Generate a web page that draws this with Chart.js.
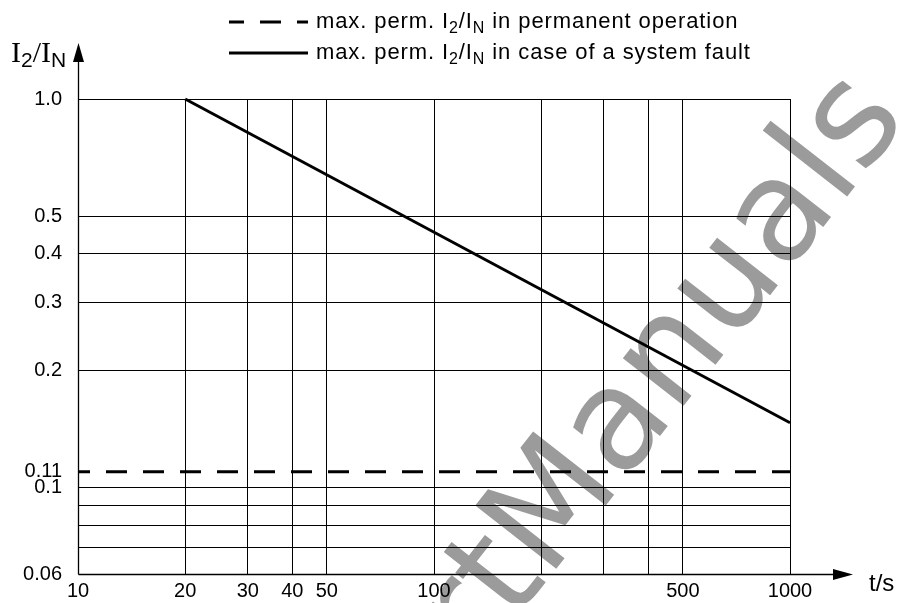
<!DOCTYPE html>
<html>
<head>
<meta charset="utf-8">
<script src="https://cdn.jsdelivr.net/npm/chart.js@4.4.0/dist/chart.umd.min.js"></script>
<style>
html,body{margin:0;padding:0;background:#fff;}
#wrap{position:relative;width:904px;height:603px;}
</style>
</head>
<body>
<div id="wrap"><canvas id="c"></canvas></div>
<script>
// t/s on x, I2/IN on y (both log)
const xTicks = [10,20,30,40,50,100,200,300,400,500,1000];
const xTickLabels = ['10','20','30','40','50','100','','','','500','1000'];
const yTicks = [0.06,0.07,0.08,0.09,0.1,0.11,0.2,0.3,0.4,0.5,1.0];
const yTickLabels = ['0.06','','','','0.1','0.11','0.2','0.3','0.4','0.5','1.0'];
const faultT = [20,1000];
const faultI = [1.0,0.147];
const permT = [10,1000];
const permI = [0.11,0.11];
const legendPerm = [['max. perm. I',0],['2',1],['/I',0],['N',1],[' in permanent operation',0]];
const legendFault = [['max. perm. I',0],['2',1],['/I',0],['N',1],[' in case of a system fault',0]];
const watermark = 'rtManuals';

const SANS = '"Liberation Sans", Arial, sans-serif';
const SERIF = '"Liberation Serif", "Times New Roman", serif';

function pts(xs,ys){ return xs.map((x,i)=>({x:x,y:ys[i]})); }

function drawRich(ctx,parts,x,y,size,subSize){
  ctx.textBaseline='alphabetic'; ctx.textAlign='left';
  ctx.letterSpacing='0.9px';
  parts.forEach(p=>{
    ctx.font=(p[1]?subSize:size)+'px '+SANS;
    ctx.fillText(p[0],x,p[1]?y+5:y);
    x+=ctx.measureText(p[0]).width;
  });
  ctx.letterSpacing='0px';
}

const deco = {
  id:'deco',
  beforeDraw(chart){
    const ctx=chart.ctx;
    ctx.save();
    ctx.translate(478,669);
    ctx.rotate(-52*Math.PI/180);
    ctx.font='141px "DejaVu Sans", sans-serif';
    ctx.fillStyle='#9b9b9b';
    ctx.fillText(watermark,0,0);
    ctx.restore();
  },
  afterDraw(chart){
    const ctx=chart.ctx, xs=chart.scales.x, ys=chart.scales.y;
    const x0=Math.round(xs.getPixelForValue(xs.min))+0.5;
    const y0=Math.round(ys.getPixelForValue(ys.min))+0.5;
    ctx.save();
    ctx.strokeStyle='#000'; ctx.fillStyle='#000'; ctx.lineWidth=1.3;
    // y axis + arrow
    ctx.beginPath(); ctx.moveTo(x0,y0); ctx.lineTo(x0,60); ctx.stroke();
    ctx.beginPath(); ctx.moveTo(x0,43); ctx.lineTo(x0-5.5,62); ctx.lineTo(x0+5.5,62); ctx.closePath(); ctx.fill();
    // x axis + arrow
    ctx.beginPath(); ctx.moveTo(x0,y0); ctx.lineTo(836,y0); ctx.stroke();
    ctx.beginPath(); ctx.moveTo(853,y0); ctx.lineTo(833,y0-5.5); ctx.lineTo(833,y0+5.5); ctx.closePath(); ctx.fill();
    // axis titles
    ctx.textBaseline='alphabetic'; ctx.textAlign='left';
    let x=11;
    [['I',SERIF,30,62],['2',SANS,21,67],['/',SERIF,30,62],['I',SERIF,30,62],['N',SANS,21,67]].forEach(p=>{
      ctx.font=p[2]+'px '+p[1]; ctx.fillText(p[0],x,p[3]); x+=ctx.measureText(p[0]).width;
    });
    ctx.font='24px '+SANS; ctx.fillText('t/s',869,591);
    // legend
    const ds=chart.data.datasets;
    [[ds[0],22,28,legendPerm],[ds[1],53,59,legendFault]].forEach(r=>{
      const d=r[0];
      ctx.save();
      ctx.lineWidth=3; ctx.strokeStyle=d.borderColor;
      ctx.setLineDash(d.borderDash||[]); ctx.lineDashOffset=6;
      ctx.beginPath(); ctx.moveTo(229,r[1]); ctx.lineTo(308,r[1]); ctx.stroke();
      ctx.restore();
      drawRich(ctx,r[3],316,r[2],22,16);
    });
    ctx.restore();
  }
};

new Chart(document.getElementById('c'),{
  type:'scatter',
  data:{datasets:[
    {label:'perm',data:pts(permT,permI),showLine:true,borderColor:'#000',borderWidth:3,borderDash:[21,16],borderDashOffset:9,pointRadius:0,clip:false},
    {label:'fault',data:pts(faultT,faultI),showLine:true,borderColor:'#000',borderWidth:3,pointRadius:0,clip:false}
  ]},
  options:{
    responsive:true, maintainAspectRatio:false, animation:false, events:[],
    layout:{padding:{left:0,right:114,top:99,bottom:0}},
    plugins:{legend:{display:false},tooltip:{enabled:false}},
    scales:{
      x:{type:'logarithmic',min:10,max:1000,
        afterBuildTicks:s=>{s.ticks=xTicks.map(v=>({value:v}));},
        afterFit:s=>{s.height=29;},
        border:{display:false},
        grid:{drawTicks:false,lineWidth:1,color:c=>c.tick&&c.tick.value===10?'rgba(0,0,0,0)':'#000'},
        ticks:{autoSkip:false,maxRotation:0,padding:5,color:'#000',font:{family:SANS,size:20},callback:(v,i)=>xTickLabels[i]}
      },
      y:{type:'logarithmic',min:0.06,max:1,
        afterBuildTicks:s=>{s.ticks=yTicks.map(v=>({value:v}));},
        afterFit:s=>{s.width=78;},
        border:{display:false},
        grid:{drawTicks:false,lineWidth:1,color:c=>c.tick&&(c.tick.value===0.11||c.tick.value===0.06)?'rgba(0,0,0,0)':'#000'},
        ticks:{autoSkip:false,padding:16,color:'#000',font:{family:SANS,size:20},callback:(v,i)=>yTickLabels[i]}
      }
    }
  },
  plugins:[deco]
});
</script>
</body>
</html>
